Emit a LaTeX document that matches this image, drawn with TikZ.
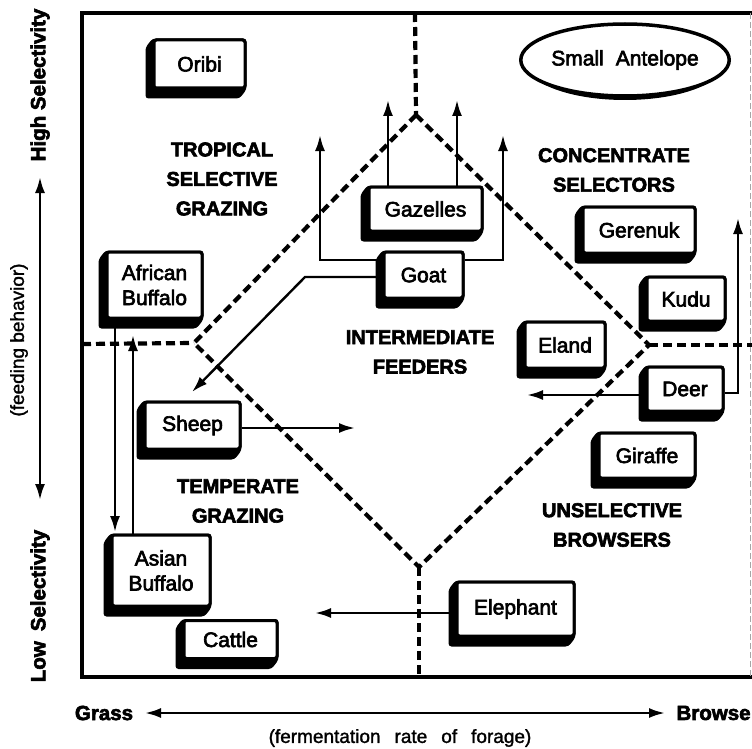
\documentclass[tikz,border=0pt]{standalone}
\usepackage{fontspec}
\setmainfont{Liberation Sans}
\newfontfamily\boxfont[FakeBold=3]{Liberation Sans}
\newfontfamily\heavyfont[FakeBold=3]{Liberation Sans Bold}
\newfontfamily\capfont[FakeBold=1.5]{Liberation Sans}
\usetikzlibrary{arrows.meta,calc,backgrounds,shapes.geometric}
\begin{document}
\begin{tikzpicture}[x=1pt,y=-1pt,
  box/.style={draw,line width=3pt,fill=white,rounded corners=2.5pt,inner sep=0pt,align=center,font=\boxfont\fontsize{21}{25}\selectfont},
  region/.style={align=center,font=\heavyfont\fontsize{20}{29.5}\selectfont},
  axislabel/.style={font=\heavyfont\fontsize{20.5}{24}\selectfont},
  dashline/.style={line width=4.2pt,dash pattern=on 9pt off 5pt},
  arr/.style={line width=2.4pt,-{Latex[length=16pt,width=10pt]}},
  darr/.style={line width=2.4pt,{Latex[length=16pt,width=10pt]}-{Latex[length=16pt,width=10pt]}},
  frame/.style={line width=3.8pt}]
\useasboundingbox (0,0) rectangle (752,749);

% frame
\coordinate (fTL) at (82,13);
\coordinate (fBL) at (82,677);
\coordinate (fTR) at (752,13);
\coordinate (fBR) at (752,677);
\draw[frame] (fTR) -- (fTL) -- (fBL) -- (fBR);
\draw[line width=0.8pt,black!35,dash pattern=on 6pt off 3pt] (750,13) -- (750,677);

% dashed partition
\coordinate (dT) at (416,115);
\coordinate (dR) at (649,345);
\coordinate (dB) at (419,567);
\coordinate (dL) at (194,343);
\coordinate (eT) at (415,13);
\coordinate (eB) at (419,677);
\coordinate (eL) at (82,344);
\coordinate (eR) at (752,345);
\draw[dashline] (dT) -- (dR) -- (dB) -- (dL) -- cycle;
\draw[dashline] (eT) -- (dT);
\draw[dashline] (dB) -- (eB);
\draw[dashline] (eL) -- (dL);
\draw[dashline] (dR) -- (eR);

% animal boxes
\node[box,minimum width=91pt,minimum height=48pt] (oribi) at (199.5,64) {Oribi};
\node[box,minimum width=95pt,minimum height=66pt] (afb) at (154.5,285) {African\\Buffalo};
\node[box,minimum width=113pt,minimum height=44pt] (gaz) at (425.5,209) {Gazelles};
\node[box,minimum width=79pt,minimum height=46pt] (goat) at (423.5,275) {Goat};
\node[box,minimum width=95pt,minimum height=47pt] (sheep) at (192.5,425.5) {Sheep};
\node[box,minimum width=98pt,minimum height=71pt] (asb) at (161,570.5) {Asian\\Buffalo};
\node[box,minimum width=93pt,minimum height=38pt] (cattle) at (230.5,639.5) {Cattle};
\node[box,minimum width=112pt,minimum height=46pt] (ger) at (639,230) {Gerenuk};
\node[box,minimum width=78pt,minimum height=44pt] (kudu) at (686,299) {Kudu};
\node[box,minimum width=80pt,minimum height=46pt] (eland) at (565,345) {Eland};
\node[box,minimum width=76pt,minimum height=44pt] (deer) at (685,389) {Deer};
\node[box,minimum width=96pt,minimum height=45pt] (giraffe) at (647,455.5) {Giraffe};
\node[box,minimum width=117pt,minimum height=54pt] (eleph) at (515.5,609) {Elephant};
\node[ellipse,draw,line width=3.5pt,fill=white,minimum width=195pt,minimum height=72pt,inner sep=0pt,font=\boxfont\fontsize{21}{25}\selectfont] (ant) at (625,60) {Small\hspace{12pt}Antelope};

\begin{pgfonlayer}{background}
\foreach \n in {oribi,afb,gaz,goat,sheep,asb,cattle,ger,kudu,eland,deer,giraffe,eleph}{
  \fill[rounded corners=3pt] (\n.north east) -- (\n.north west) -- ($(\n.north west)+(-7,9)$) -- ($(\n.south west)+(-7,9)$) -- ($(\n.south east)+(-7,9)$) -- (\n.south east) -- cycle;
}
\fill ($(ant.center)+(0,3)$) ellipse (99 and 37);
\end{pgfonlayer}

% region labels
\node[region] (trop) at (222,179) {TROPICAL\\SELECTIVE\\GRAZING};
\node[region] (conc) at (614,170) {CONCENTRATE\\SELECTORS};
\node[region] (inter) at (420,352) {INTERMEDIATE\\FEEDERS};
\node[region] (temp) at (238,501) {TEMPERATE\\GRAZING};
\node[region] (unsel) at (612,525) {UNSELECTIVE\\BROWSERS};

% connectors
\coordinate (gz1) at (388,100);
\coordinate (gz2) at (457,100);
\draw[arr] (gaz.north -| gz1) -- (gz1);
\draw[arr] (gaz.north -| gz2) -- (gz2);
\coordinate (gty) at (0,260);
\coordinate (gtl) at (320,135);
\coordinate (gtr) at (503,135);
\draw[arr] (goat.west |- gty) -| (gtl);
\draw[arr] (goat.east |- gty) -| (gtr);
\coordinate (gd1) at (305,277);
\coordinate (gd2) at (192,392);
\draw[arr] (goat.west |- gd1) -- (gd1) -- (gd2);
\coordinate (sr) at (355,428);
\draw[arr] (sheep.east |- sr) -- (sr);
\coordinate (ab1) at (115,532);
\coordinate (ab2) at (133,335);
\draw[arr] (afb.south -| ab1) -- (ab1);
\draw[arr] (asb.north -| ab2) -- (ab2);
\coordinate (dl) at (527,395);
\draw[arr] (deer.west |- dl) -- (dl);
\coordinate (dry) at (0,393);
\coordinate (dru) at (738,218);
\draw[arr] (deer.east |- dry) -| (dru);
\coordinate (elt) at (315,613);
\draw[arr] (eleph.west |- elt) -- (elt);

% axes
\node[axislabel,rotate=90] (high) at (40,85) {High Selectivity};
\node[axislabel,rotate=90] (low) at (40,606) {Low\hspace{10pt}Selectivity};
\node[rotate=90,font=\capfont\fontsize{19}{22}\selectfont] (feed) at (19,340) {(feeding behavior)};
\coordinate (vt) at (40,177);
\coordinate (vb) at (40,500);
\draw[darr] (vt) -- (vb);
\node[axislabel] (grass) at (104,713) {Grass};
\node[axislabel,anchor=west] (browse) at (673,713) {Browse};
\coordinate (hl) at (145,713);
\coordinate (hr) at (665,713);
\draw[darr] (hl) -- (hr);
\node[font=\capfont\fontsize{19}{22}\selectfont] (ferm) at (400,738) {(fermentation\hspace{14pt}rate\hspace{14pt}of\hspace{14pt}forage)};
\end{tikzpicture}
\end{document}
